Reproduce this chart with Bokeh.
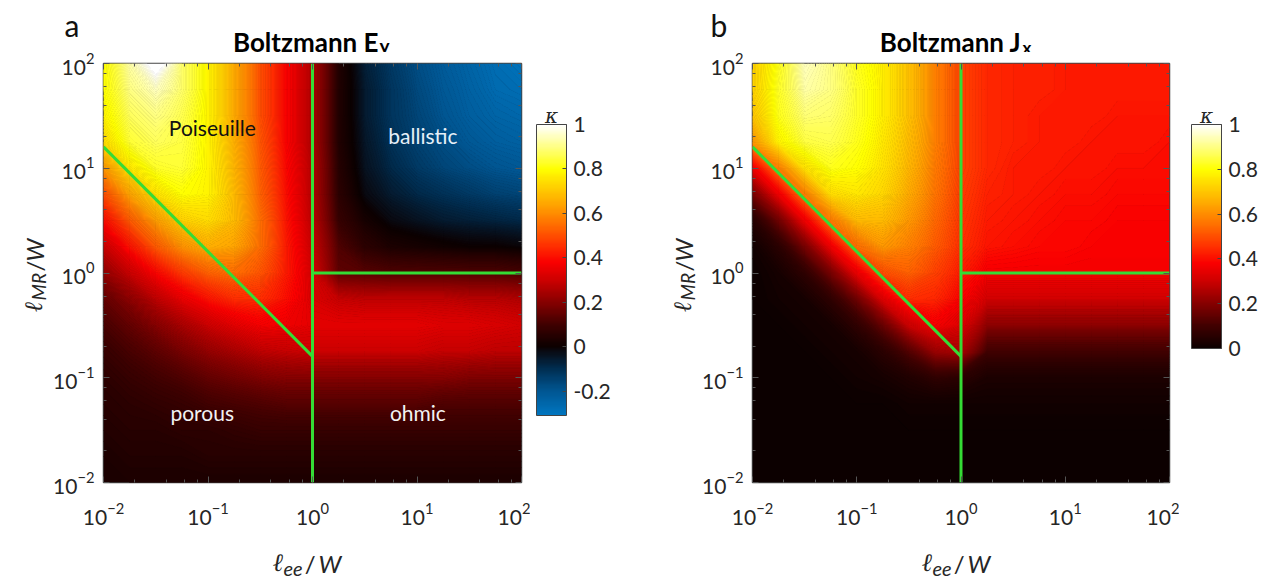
import numpy as np
from bokeh.plotting import figure
from bokeh.layouts import row, column
from bokeh.core.properties import value
from bokeh.models import (LinearColorMapper, ColorBar, FixedTicker, PrintfTickFormatter,
                          LogAxis, LogTicker, Range1d)
from bokeh.embed import file_html
from bokeh.resources import INLINE

# ---------------- data ----------------
# grid nodes (log10 of l_ee/W along x and of l_MR/W along y), 0.25 decade apart
node_log10 = [-2.0, -1.75, -1.5, -1.25, -1.0, -0.75, -0.5, -0.25, 0.0,
              0.25, 0.5, 0.75, 1.0, 1.25, 1.5, 1.75, 2.0]

# kappa for Boltzmann E_y ; rows from top (l_MR/W = 100) down to 0.01,
# columns from l_ee/W = 0.01 to 100
kappa_Ey = [
    [0.80, 0.93, 1.05, 0.88, 0.78, 0.65, 0.50, 0.38, 0.25, 0.04, -0.07, -0.13, -0.18, -0.22, -0.25, -0.28, -0.30],
    [0.80, 0.90, 0.95, 0.88, 0.78, 0.65, 0.50, 0.38, 0.25, 0.04, -0.06, -0.12, -0.17, -0.21, -0.24, -0.27, -0.28],
    [0.78, 0.87, 0.90, 0.86, 0.78, 0.65, 0.50, 0.38, 0.25, 0.04, -0.06, -0.12, -0.16, -0.20, -0.23, -0.25, -0.26],
    [0.74, 0.84, 0.87, 0.85, 0.78, 0.66, 0.51, 0.38, 0.25, 0.04, -0.05, -0.11, -0.15, -0.18, -0.21, -0.23, -0.24],
    [0.62, 0.76, 0.83, 0.84, 0.78, 0.67, 0.52, 0.39, 0.26, 0.05, -0.04, -0.09, -0.13, -0.16, -0.18, -0.20, -0.21],
    [0.50, 0.64, 0.75, 0.80, 0.78, 0.68, 0.53, 0.40, 0.26, 0.06, -0.02, -0.06, -0.09, -0.11, -0.13, -0.15, -0.16],
    [0.40, 0.52, 0.63, 0.72, 0.74, 0.68, 0.55, 0.41, 0.27, 0.08, 0.02, -0.02, -0.04, -0.06, -0.07, -0.08, -0.09],
    [0.30, 0.41, 0.52, 0.61, 0.66, 0.64, 0.55, 0.42, 0.29, 0.12, 0.06, 0.03, 0.02, 0.01, 0.00, 0.00, -0.01],
    [0.22, 0.30, 0.39, 0.47, 0.53, 0.55, 0.51, 0.42, 0.31, 0.14, 0.13, 0.12, 0.12, 0.12, 0.12, 0.12, 0.11],
    [0.15, 0.21, 0.28, 0.35, 0.41, 0.45, 0.45, 0.40, 0.32, 0.29, 0.28, 0.28, 0.28, 0.28, 0.27, 0.27, 0.26],
    [0.11, 0.15, 0.20, 0.25, 0.30, 0.34, 0.37, 0.36, 0.34, 0.34, 0.34, 0.34, 0.34, 0.33, 0.33, 0.32, 0.31],
    [0.08, 0.11, 0.14, 0.18, 0.22, 0.25, 0.28, 0.29, 0.30, 0.30, 0.30, 0.30, 0.30, 0.29, 0.29, 0.28, 0.28],
    [0.06, 0.08, 0.10, 0.12, 0.15, 0.17, 0.19, 0.20, 0.20, 0.20, 0.20, 0.20, 0.20, 0.20, 0.19, 0.19, 0.19],
    [0.05, 0.06, 0.07, 0.08, 0.10, 0.11, 0.12, 0.13, 0.13, 0.13, 0.13, 0.13, 0.13, 0.12, 0.12, 0.12, 0.12],
    [0.04, 0.05, 0.05, 0.06, 0.06, 0.07, 0.08, 0.08, 0.08, 0.08, 0.08, 0.08, 0.08, 0.08, 0.08, 0.08, 0.08],
    [0.03, 0.04, 0.04, 0.04, 0.05, 0.05, 0.05, 0.05, 0.05, 0.05, 0.05, 0.05, 0.05, 0.05, 0.05, 0.05, 0.05],
    [0.03, 0.03, 0.03, 0.03, 0.03, 0.03, 0.03, 0.03, 0.03, 0.03, 0.03, 0.03, 0.03, 0.03, 0.03, 0.03, 0.03],
]

# kappa for Boltzmann J_x ; same grid
kappa_Jx = [
    [0.72, 0.82, 0.95, 0.90, 0.82, 0.77, 0.69, 0.58, 0.48, 0.44, 0.43, 0.43, 0.42, 0.42, 0.42, 0.42, 0.42],
    [0.72, 0.83, 0.93, 0.90, 0.83, 0.77, 0.69, 0.58, 0.48, 0.44, 0.43, 0.43, 0.42, 0.42, 0.42, 0.42, 0.42],
    [0.70, 0.82, 0.89, 0.88, 0.83, 0.77, 0.69, 0.58, 0.48, 0.44, 0.43, 0.42, 0.42, 0.42, 0.41, 0.41, 0.41],
    [0.62, 0.78, 0.85, 0.86, 0.82, 0.76, 0.68, 0.58, 0.48, 0.44, 0.43, 0.42, 0.42, 0.41, 0.41, 0.41, 0.40],
    [0.36, 0.58, 0.75, 0.82, 0.80, 0.75, 0.67, 0.57, 0.48, 0.44, 0.42, 0.42, 0.41, 0.41, 0.40, 0.40, 0.40],
    [0.18, 0.36, 0.58, 0.74, 0.76, 0.73, 0.65, 0.56, 0.47, 0.43, 0.42, 0.41, 0.40, 0.40, 0.39, 0.39, 0.39],
    [0.05, 0.17, 0.36, 0.57, 0.68, 0.68, 0.62, 0.54, 0.46, 0.42, 0.41, 0.40, 0.39, 0.39, 0.38, 0.38, 0.38],
    [0.01, 0.06, 0.18, 0.36, 0.55, 0.62, 0.58, 0.52, 0.45, 0.41, 0.40, 0.39, 0.39, 0.38, 0.38, 0.38, 0.38],
    [0.00, 0.02, 0.07, 0.18, 0.35, 0.50, 0.53, 0.48, 0.42, 0.37, 0.37, 0.37, 0.37, 0.37, 0.37, 0.37, 0.37],
    [0.00, 0.01, 0.02, 0.07, 0.17, 0.33, 0.45, 0.44, 0.38, 0.31, 0.31, 0.31, 0.31, 0.31, 0.31, 0.31, 0.31],
    [0.00, 0.00, 0.01, 0.02, 0.07, 0.16, 0.30, 0.37, 0.33, 0.21, 0.21, 0.21, 0.21, 0.21, 0.21, 0.21, 0.21],
    [0.00, 0.00, 0.00, 0.01, 0.02, 0.06, 0.13, 0.23, 0.25, 0.10, 0.10, 0.10, 0.10, 0.10, 0.10, 0.10, 0.10],
    [0.00, 0.00, 0.00, 0.00, 0.01, 0.02, 0.04, 0.07, 0.06, 0.03, 0.03, 0.03, 0.03, 0.03, 0.03, 0.03, 0.03],
    [0.00, 0.00, 0.00, 0.00, 0.00, 0.00, 0.01, 0.01, 0.01, 0.01, 0.01, 0.01, 0.01, 0.01, 0.01, 0.01, 0.01],
    [0.00, 0.00, 0.00, 0.00, 0.00, 0.00, 0.00, 0.00, 0.00, 0.00, 0.00, 0.00, 0.00, 0.00, 0.00, 0.00, 0.00],
    [0.00, 0.00, 0.00, 0.00, 0.00, 0.00, 0.00, 0.00, 0.00, 0.00, 0.00, 0.00, 0.00, 0.00, 0.00, 0.00, 0.00],
    [0.00, 0.00, 0.00, 0.00, 0.00, 0.00, 0.00, 0.00, 0.00, 0.00, 0.00, 0.00, 0.00, 0.00, 0.00, 0.00, 0.00],
]

# regime boundaries (green lines)
diag_x = [0.01, 1.0]
diag_y = [16.0, 0.16]
vert_x = [1.0, 1.0]
vert_y = [0.01, 100.0]
horiz_x = [1.0, 100.0]
horiz_y = [1.0, 1.0]

cbar_range_Ey = [-0.31, 1.0]
cbar_range_Jx = [0.0, 1.0]
cbar_ticks_Ey = [-0.2, 0, 0.2, 0.4, 0.6, 0.8, 1]
cbar_ticks_Jx = [0, 0.2, 0.4, 0.6, 0.8, 1]

regions_Ey = [
    ("Poiseuille", 0.11, 24.5, "#111111"),
    ("ballistic", 11.4, 20.5, "#e6f0f8"),
    ("porous", 0.088, 0.047, "#f2f2f2"),
    ("ohmic", 10.2, 0.047, "#f2f2f2"),
]

# ---------------- style ----------------
FONT = "Lato"
MATH = "DejaVu Serif"
GREEN = "#35dc35"
TXT = "#262626"

# colormap anchors (kappa -> rgb), blue-black-hot
K_A = [-0.31, -0.2, -0.1, 0.0, 0.1, 0.2, 0.3, 0.38, 0.45, 0.55, 0.65, 0.75, 0.8, 0.9, 1.0]
R_A = [0, 0, 0, 12, 65, 135, 205, 250, 255, 255, 255, 255, 255, 255, 255]
G_A = [118, 85, 45, 0, 0, 0, 0, 0, 45, 110, 170, 225, 255, 255, 255]
B_A = [192, 145, 80, 0, 0, 0, 0, 0, 0, 0, 0, 0, 0, 130, 255]


def kcolor(k):
    r = int(round(np.interp(k, K_A, R_A)))
    g = int(round(np.interp(k, K_A, G_A)))
    b = int(round(np.interp(k, K_A, B_A)))
    return "#%02x%02x%02x" % (r, g, b)


def palette(lo, hi, n=256):
    return [kcolor(k) for k in np.linspace(lo, hi, n)]


# page geometry (pixels)
HEAD_H = 52          # header strip (panel letter, title)
MID_BOTTOM = 532     # bottom of the strip holding the map, tick labels and colour bar
PAGE_H = 579
FRAME_TOP = 63
FRAME_BOTTOM = 482
YTICK_ROOM = 51      # room left of each frame for the y tick labels


def style_axis(ax, show_labels):
    ax.ticker = LogTicker()
    ax.axis_line_color = None
    ax.major_tick_in = 6
    ax.major_tick_out = 0
    ax.minor_tick_in = 3
    ax.minor_tick_out = 0
    ax.major_tick_line_color = "#555555"
    ax.minor_tick_line_color = "#555555"
    ax.major_label_text_font = FONT
    ax.major_label_text_color = TXT
    if show_labels:
        ax.major_label_text_font_size = "21px"
    else:
        ax.major_label_text_font_size = "1px"
        ax.major_label_text_alpha = 0.0
        ax.major_label_standoff = 0


def strip(x0, x1, y0, y1, fy0=None, fy1=None):
    """Blank figure whose data coordinates are page pixels (y downward)."""
    fy0 = y0 if fy0 is None else fy0
    fy1 = y1 if fy1 is None else fy1
    f = figure(width=x1 - x0, height=y1 - y0, x_range=Range1d(x0, x1),
               y_range=Range1d(fy1, fy0), x_axis_location=None, y_axis_location=None,
               toolbar_location=None, output_backend="svg",
               min_border_left=0, min_border_right=0,
               min_border_top=fy0 - y0, min_border_bottom=y1 - fy1,
               outline_line_color=None, title=None)
    f.grid.visible = False
    f.background_fill_color = "white"
    f.border_fill_color = "white"
    return f


def put(f, X, Y, text, size, font=FONT, style="normal", color=TXT, align="left", angle=0.0):
    f.text(x=[X], y=[Y], text=[text], text_font=value(font), text_font_size=f"{size}px",
           text_font_style=style, text_color=color, text_align=align,
           text_baseline="alphabetic", angle=angle)


def panel(kappa, crange, page_left, page_right, frame_page_left, frame_width):
    left_b = frame_page_left - page_left
    width = page_right - page_left
    p = figure(width=width, height=MID_BOTTOM - HEAD_H, x_axis_type="log", y_axis_type="log",
               x_range=Range1d(10 ** node_log10[0], 10 ** node_log10[-1]),
               y_range=Range1d(10 ** node_log10[0], 10 ** node_log10[-1]),
               min_border_left=left_b, min_border_right=width - left_b - frame_width,
               min_border_top=FRAME_TOP - HEAD_H, min_border_bottom=MID_BOTTOM - FRAME_BOTTOM,
               output_backend="svg", toolbar_location=None, title=None)
    p.grid.visible = False
    p.outline_line_color = "#444444"
    p.outline_line_width = 1.5
    p.background_fill_color = kcolor(max(0.0, crange[0]))
    p.border_fill_color = "white"

    xs = 10 ** np.array(node_log10)
    z = np.array(kappa[::-1], dtype=float)
    step = 0.005
    levels = [crange[0] - 0.02] + list(np.arange(crange[0], 1.0 + 1e-9, step)) + [1.2]
    fills = [kcolor(max(crange[0], 0.5 * (levels[i] + levels[i + 1])))
             for i in range(len(levels) - 1)]
    lines = [kcolor(max(crange[0], lv)) for lv in levels]
    p.contour(x=xs, y=xs, z=z, levels=levels, fill_color=fills,
              line_color=lines, line_width=1.0)

    for lx, ly in ((diag_x, diag_y), (vert_x, vert_y), (horiz_x, horiz_y)):
        p.line(lx, ly, line_color=GREEN, line_width=3)

    style_axis(p.xaxis[0], True)
    style_axis(p.yaxis[0], True)
    p.xaxis[0].major_label_standoff = 20
    p.yaxis[0].major_label_standoff = 9
    top = LogAxis()
    right = LogAxis()
    style_axis(top, False)
    style_axis(right, False)
    p.add_layout(top, "above")
    p.add_layout(right, "right")
    return p


def colorbar_strip(crange, cticks, x0, x1, bar_x, bar_h):
    f = strip(x0, x1, HEAD_H, MID_BOTTOM, FRAME_TOP, FRAME_BOTTOM)
    mapper = LinearColorMapper(palette=palette(crange[0], crange[1]), low=crange[0],
                               high=crange[1], high_color="#ffffff")
    cb = ColorBar(color_mapper=mapper, ticker=FixedTicker(ticks=cticks),
                  formatter=PrintfTickFormatter(format="%g"),
                  location=(bar_x - x0, FRAME_BOTTOM - (124 + bar_h)),
                  width=30, height=bar_h, padding=0,
                  background_fill_alpha=0, border_line_color=None,
                  bar_line_color="#444444", bar_line_width=1,
                  major_tick_line_color="#444444", major_tick_in=4, major_tick_out=0,
                  minor_tick_line_color=None,
                  major_label_text_font=FONT, major_label_text_font_size="21px",
                  major_label_text_color=TXT, label_standoff=7)
    f.add_layout(cb, "center")
    put(f, bar_x + 15, 115, "\u03ba", 20, font=MATH, style="italic", align="center")
    return f


def decorate(page_left, width, frame_page_left, letter, letter_x, title_main, title_sub,
             title_end, sub_size, sub_base):
    dx = frame_page_left - 101
    head = strip(page_left, page_left + width, 0, HEAD_H)
    put(head, letter_x, 24, letter, 30, color="#111111")
    put(head, title_end, 41, title_main, 26, style="bold", color="#000000", align="right")
    put(head, title_end + 1, sub_base, title_sub, sub_size, style="bold", color="#000000")

    ylab_right = frame_page_left - YTICK_ROOM
    ylab = strip(page_left, ylab_right, HEAD_H, MID_BOTTOM, FRAME_TOP, FRAME_BOTTOM)
    a = np.pi / 2
    put(ylab, 33 + dx, 312, "\u2113", 25, font=MATH, style="italic", angle=a)
    put(ylab, 38 + dx, 300, "MR", 19, style="italic", angle=a)
    put(ylab, 34 + dx, 271, "/", 24, angle=a)
    put(ylab, 34 + dx, 261, "W", 24, style="italic", angle=a)

    foot = strip(page_left, page_left + width, MID_BOTTOM, PAGE_H)
    put(foot, 272 + dx, 562, "\u2113", 25, font=MATH, style="italic")
    put(foot, 283 + dx, 568, "ee", 20, style="italic")
    put(foot, 315 + dx, 563, "/", 24, align="right")
    put(foot, 318 + dx, 563, "W", 24, style="italic")
    return head, ylab, foot, ylab_right


# ---- panel a ----
head_a, ylab_a, foot_a, yr_a = decorate(0, 640, 101, "a", 64, "Boltzmann E", "y", 378, 19, 45)
pa = panel(kappa_Ey, cbar_range_Ey, yr_a, 530, 101, 420)
for text, x, y, col in regions_Ey:
    pa.text(x=[x], y=[y], text=[text], text_font_size="21px", text_color=col,
            text_align="center", text_baseline="middle", text_font=value(FONT))
cb_a = colorbar_strip(cbar_range_Ey, cbar_ticks_Ey, 530, 640, 536, 291)

# ---- panel b ----
head_b, ylab_b, foot_b, yr_b = decorate(640, 645, 750, "b", 710, "Boltzmann J", "x", 1021, 17, 47)
pb = panel(kappa_Jx, cbar_range_Jx, yr_b, 1179, 750, 419)
cb_b = colorbar_strip(cbar_range_Jx, cbar_ticks_Jx, 1179, 1285, 1191, 224)

col_a = column(head_a, row(ylab_a, pa, cb_a, spacing=0), foot_a, spacing=0)
col_b = column(head_b, row(ylab_b, pb, cb_b, spacing=0), foot_b, spacing=0)
layout = row(col_a, col_b, spacing=0)
open("out.html", "w").write(file_html(layout, INLINE))
